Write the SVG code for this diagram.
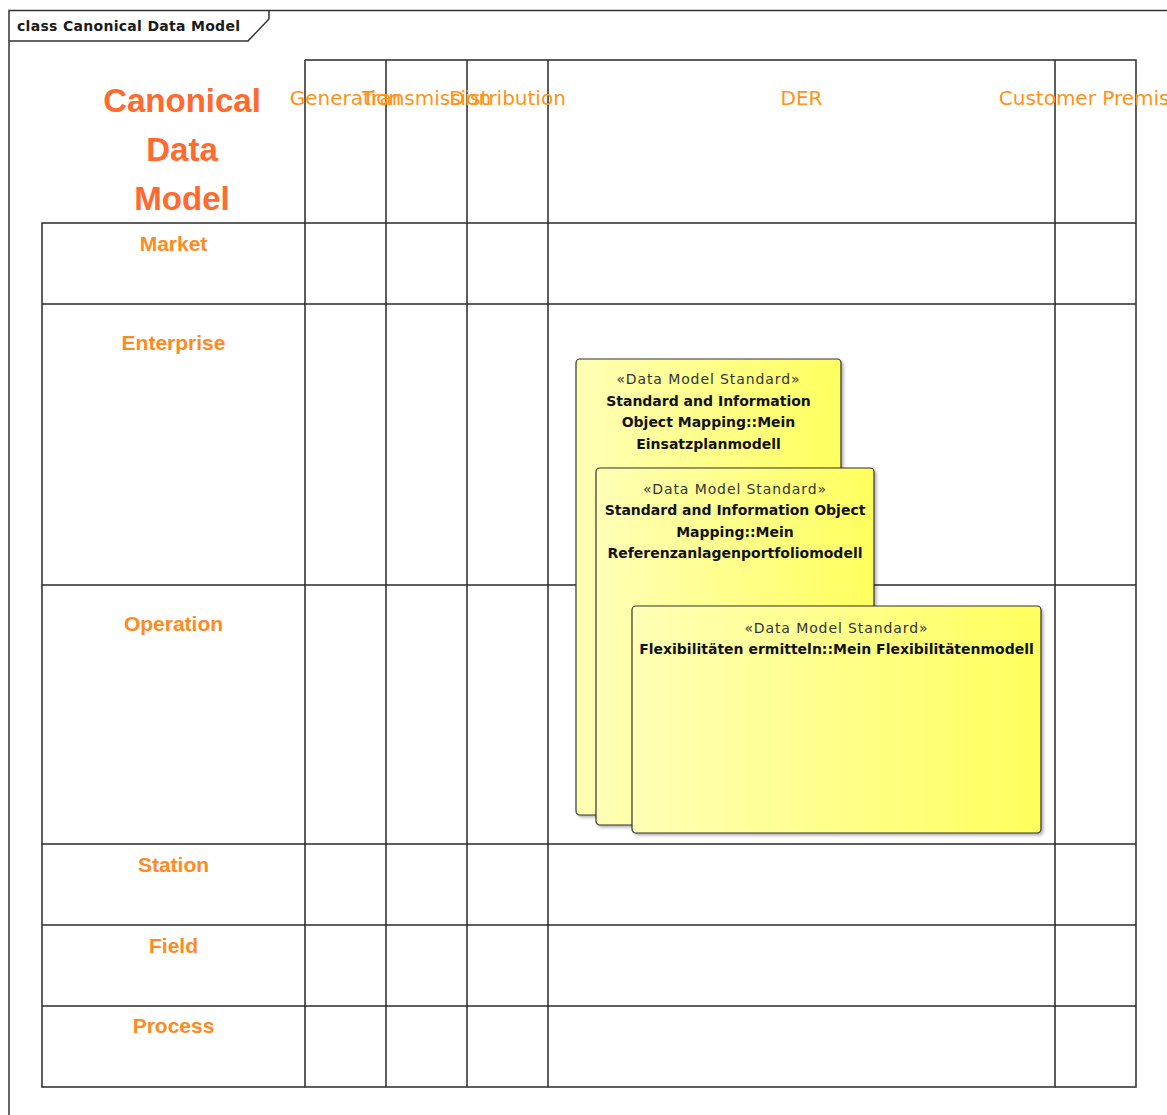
<svg xmlns="http://www.w3.org/2000/svg" width="1167" height="1115" viewBox="0 0 1167 1115">
  <style>
    .frame { fill: none; stroke: #333; stroke-width: 1.5; }
    .grid { fill: none; stroke: #2a2a2a; stroke-width: 1.5; }
    .tab { font-family: "DejaVu Sans", sans-serif; font-weight: bold; font-size: 14px; letter-spacing: 0.3px; fill: #1a1a1a; }
    .title { font-family: "Liberation Sans", Arial, sans-serif; font-weight: bold; font-size: 33px; fill: #FF6A2E; text-anchor: middle; }
    .col { font-family: "DejaVu Sans", sans-serif; font-size: 20px; fill: #FF9217; text-anchor: middle; }
    .row { font-family: "Liberation Sans", Arial, sans-serif; font-weight: bold; font-size: 21px; fill: #FF8A22; text-anchor: middle; }
    .box { fill: url(#yellow); stroke: #333; stroke-width: 1.2; filter: url(#shadow); }
    .stereo { font-family: "DejaVu Sans", sans-serif; font-size: 14px; letter-spacing: 0.9px; fill: #333; text-anchor: middle; }
    .name { font-family: "DejaVu Sans", sans-serif; font-weight: bold; font-size: 14px; fill: #111; text-anchor: middle; }
  </style>
  <defs>
    <linearGradient id="yellow" x1="0" y1="0" x2="1" y2="0">
      <stop offset="0" stop-color="#FFFFB6"/>
      <stop offset="1" stop-color="#FFFF5E"/>
    </linearGradient>
    <filter id="shadow" x="-5%" y="-5%" width="112%" height="112%">
      <feDropShadow dx="2" dy="2" stdDeviation="1.5" flood-color="#000" flood-opacity="0.3"/>
    </filter>
  </defs>

  <rect x="0" y="0" width="1167" height="1115" fill="#fff"/>

  <!-- diagram frame and name tab -->
  <g id="frame">
    <path class="frame" d="M9,1115 V10.5 H1167"/>
    <path class="frame" d="M9,41 H248 L269,19 V10.5"/>
    <text class="tab" x="17" y="31">class Canonical Data Model</text>
  </g>

  <!-- swimlane grid -->
  <g id="grid">
    <path class="grid" d="M305,60 H1136 V1087 H42 V223 H1136"/>
    <path class="grid" d="M305,60 V1087 M386,60 V1087 M467,60 V1087 M548,60 V1087 M1055,60 V1087"/>
    <path class="grid" d="M42,304 H1136 M42,585 H1136 M42,844 H1136 M42,925 H1136 M42,1006 H1136"/>
  </g>

  <!-- grid heading and lane labels -->
  <g id="headings">
    <text class="title" x="182" y="112">Canonical</text>
    <text class="title" x="182" y="161">Data</text>
    <text class="title" x="182" y="210">Model</text>
    <text class="col" x="345.5" y="105">Generation</text>
    <text class="col" x="426.5" y="105">Transmission</text>
    <text class="col" x="507.5" y="105">Distribution</text>
    <text class="col" x="801.5" y="105">DER</text>
    <text class="col" x="1095.5" y="105">Customer Premises</text>
    <text class="row" x="173.5" y="251">Market</text>
    <text class="row" x="173.5" y="350">Enterprise</text>
    <text class="row" x="173.5" y="631">Operation</text>
    <text class="row" x="173.5" y="872">Station</text>
    <text class="row" x="173.5" y="953">Field</text>
    <text class="row" x="173.5" y="1033">Process</text>
  </g>

  <!-- data model standard elements -->
  <g id="einsatzplanmodell">
    <rect class="box" x="576" y="359" width="265" height="456" rx="4"/>
    <text class="stereo" x="708.5" y="384">«Data Model Standard»</text>
    <text class="name" x="708.5" y="405.5">Standard and Information</text>
    <text class="name" x="708.5" y="427">Object Mapping::Mein</text>
    <text class="name" x="708.5" y="448.5">Einsatzplanmodell</text>
  </g>

  <g id="referenzanlagenportfoliomodell">
    <rect class="box" x="596" y="468" width="278" height="357" rx="4"/>
    <text class="stereo" x="735" y="493.5">«Data Model Standard»</text>
    <text class="name" x="735" y="515">Standard and Information Object</text>
    <text class="name" x="735" y="536.5">Mapping::Mein</text>
    <text class="name" x="735" y="558">Referenzanlagenportfoliomodell</text>
  </g>

  <g id="flexibilitaetenmodell">
    <rect class="box" x="632" y="606" width="409" height="227" rx="4"/>
    <text class="stereo" x="836.5" y="632.5">«Data Model Standard»</text>
    <text class="name" x="836.5" y="654">Flexibilitäten ermitteln::Mein Flexibilitätenmodell</text>
  </g>

  <!-- no connectors in this diagram -->
  <g id="connectors"/>
</svg>
